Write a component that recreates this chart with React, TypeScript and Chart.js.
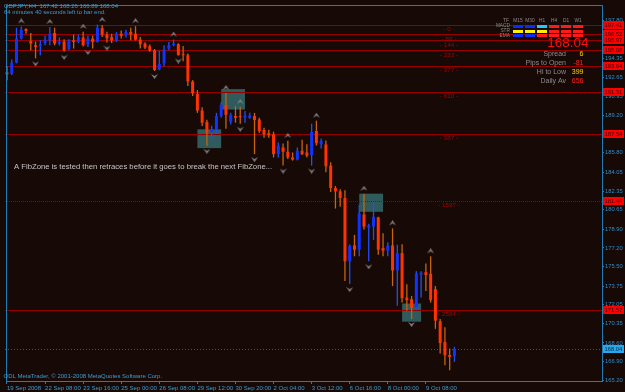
import React, { useEffect, useRef } from 'react';
import { Chart, registerables } from 'chart.js';

Chart.register(...registerables);

const symbolLine = 'GBPJPY,H4  167.42 168.26 166.89 168.04';
const timerLine = '64 minutes 40 seconds left to bar end.';
const copyrightLine = 'ODL MetaTrader, © 2001-2008 MetaQuotes Software Corp.';
const noteText = 'A FibZone is tested then retraces before it goes to break the next FibZone...';

const opens = [
  193.09, 192.94, 193.96, 196.14, 197.01, 195.93, 195.54, 195.45, 195.75, 195.98,
  196.65, 195.69, 195.87, 195.18, 195.98, 195.84, 196.23, 195.60, 196.14, 195.84,
  197.09, 196.50, 196.29, 195.91, 196.58, 196.43, 196.74, 196.58, 196.05, 195.69,
  195.45, 195.09, 193.36, 193.90, 195.24, 195.54, 195.63, 194.73, 194.64, 192.26,
  191.12, 189.63, 188.59, 187.68, 187.90, 189.13, 190.14, 188.59, 189.13, 189.09,
  189.00, 188.95, 189.13, 188.82, 187.87, 187.57, 187.48, 185.69, 186.29, 185.90,
  185.39, 185.19, 185.99, 185.84, 185.60, 187.78, 186.58, 186.56, 184.65, 182.62,
  182.32, 181.72, 175.99, 177.43, 177.04, 180.23, 179.04, 179.13, 179.96, 177.18,
  176.95, 177.43, 175.16, 176.73, 172.71, 172.56, 171.81, 174.80, 175.01, 174.86,
  173.46, 170.56, 168.68, 167.51, 167.42,
];
const highs = [
  193.63, 194.26, 197.12, 197.24, 197.08, 196.65, 195.87, 195.98, 196.43, 197.18,
  197.12, 196.23, 196.07, 196.09, 196.50, 196.52, 196.76, 196.43, 196.43, 197.41,
  197.38, 196.76, 196.58, 196.72, 196.88, 196.94, 197.12, 197.26, 196.29, 195.82,
  195.60, 195.20, 195.06, 195.54, 195.84, 196.05, 195.73, 195.47, 194.79, 192.38,
  191.48, 189.93, 188.80, 188.26, 189.42, 190.41, 191.21, 189.42, 190.02, 189.96,
  189.60, 189.42, 189.42, 188.97, 188.08, 187.90, 187.72, 186.74, 186.65, 186.89,
  185.84, 186.29, 186.98, 186.58, 188.44, 188.71, 187.09, 186.91, 184.95, 182.80,
  182.50, 182.41, 177.51, 178.38, 181.10, 182.10, 179.39, 181.36, 180.02, 178.53,
  177.72, 178.97, 177.49, 177.54, 173.91, 172.86, 175.10, 175.10, 175.79, 176.44,
  173.75, 170.77, 170.02, 168.09, 168.26,
];
const lows = [
  192.38, 192.85, 193.90, 196.05, 196.58, 195.09, 194.35, 194.64, 195.54, 195.54,
  195.54, 195.51, 194.95, 195.09, 195.24, 195.73, 195.42, 195.39, 195.24, 195.78,
  196.29, 195.78, 195.75, 195.82, 196.14, 196.23, 195.98, 195.96, 195.24, 195.21,
  194.95, 193.21, 193.27, 193.63, 195.09, 195.45, 194.61, 194.08, 191.84, 190.94,
  189.42, 188.23, 186.44, 187.00, 187.63, 188.97, 187.99, 188.37, 188.53, 188.44,
  188.53, 188.89, 185.69, 187.63, 187.18, 187.18, 185.39, 185.39, 184.65, 185.24,
  185.10, 185.12, 185.60, 185.39, 184.65, 186.47, 186.20, 184.05, 182.26, 180.76,
  180.92, 174.20, 173.93, 176.44, 176.44, 178.86, 175.99, 177.93, 176.59, 176.44,
  176.44, 173.75, 171.96, 172.26, 171.52, 170.77, 171.67, 172.71, 173.31, 172.26,
  169.88, 167.64, 166.59, 166.14, 166.89,
];
const closes = [
  192.91, 193.96, 196.14, 196.94, 196.83, 195.69, 195.39, 195.63, 196.05, 196.58,
  195.69, 195.87, 195.09, 195.98, 195.84, 196.25, 195.54, 196.14, 195.84, 197.12,
  196.50, 196.16, 195.98, 196.58, 196.38, 196.74, 196.52, 196.05, 195.63, 195.33,
  195.04, 193.30, 193.84, 195.15, 195.54, 195.69, 194.64, 194.64, 192.26, 191.19,
  189.63, 188.53, 187.63, 187.86, 189.13, 190.14, 189.24, 189.22, 188.97, 189.04,
  189.18, 189.18, 188.77, 187.78, 187.48, 187.39, 185.69, 186.44, 185.90, 185.39,
  185.19, 185.99, 185.69, 185.55, 187.69, 186.67, 186.89, 184.59, 182.62, 182.32,
  181.72, 175.99, 177.40, 177.04, 180.32, 179.13, 179.22, 180.02, 177.04, 176.95,
  177.43, 175.16, 176.73, 172.65, 172.47, 171.76, 174.89, 174.95, 174.74, 172.47,
  170.62, 168.59, 167.49, 167.34, 168.04,
];

const xTickIndex = [0, 8, 16, 24, 32, 40, 48, 56, 64, 72, 80, 88];
const xTickLabels = [
  '19 Sep 2008', '22 Sep 08:00', '23 Sep 16:00', '25 Sep 00:00', '26 Sep 08:00', '29 Sep 12:00',
  '30 Sep 20:00', '2 Oct 04:00', '3 Oct 12:00', '6 Oct 16:00', '8 Oct 00:00', '9 Oct 08:00',
];
const yTickValues = [
  165.20, 166.90, 168.60, 170.35, 172.05, 173.75, 175.50, 177.20, 178.90, 180.65,
  182.35, 184.05, 185.80, 187.50, 189.20, 190.95, 192.65, 194.35, 196.10, 197.80,
];

const fibLevels = [0, 89, 144, 233, 377, 610, 987, 1597, 2584];
const fibPrices = [197.41, 196.52, 195.97, 195.08, 193.64, 191.31, 187.54, 181.44, 171.57];
const fibLabels = ['197.41', '196.52', '195.97', '195.08', '193.64', '191.31', '187.54', '181.44', '171.57'];

const upFractals = [3, 9, 16, 20, 27, 35, 46, 49, 59, 65, 75, 81, 89];
const downFractals = [6, 12, 17, 21, 31, 36, 42, 49, 52, 58, 64, 72, 76, 85];

const zoneStart = [40, 45, 74, 83];
const zoneEnd = [45, 50, 79, 87];
const zoneTop = [187.93, 191.57, 182.11, 172.17];
const zoneBottom = [186.23, 189.72, 180.47, 170.53];

const lastPrice = 168.04;
const lastPriceLabel = '168.04';

const panelHeader = ['TF', 'M15', 'M30', 'H1', 'H4', 'D1', 'W1'];
const panelRows = ['MACD', 'STR', 'EMA'];
const macdCells = ['#0a2cff', '#0a2cff', '#22c8ff', '#ff1a1a', '#ff1a1a', '#ff1a1a'];
const strCells = ['#ffee00', '#ffee00', '#ffee00', '#ff1a1a', '#ff1a1a', '#ff1a1a'];
const emaCells = ['#0a2cff', '#0a2cff', '#ff1a1a', '#ff1a1a', '#ff1a1a', '#ff1a1a'];
const bigPrice = '168.04';
const statLabels = ['Spread', 'Pips to Open', 'Hi to Low', 'Daily Av'];
const statValues = ['6', '-81', '399', '656'];
const statColors = ['#ffd200', '#ff2020', '#ffd200', '#ff2020'];

const FONT = '"Liberation Sans", Arial, sans-serif';
const AXIS_BLUE = '#1f7db8';
const TEXT_BLUE = '#3b9bd4';

function arrowImage(up: boolean): HTMLCanvasElement {
  const gap = 3, ah = 5, w = 7;
  const h = 2 * (gap + ah);
  const c = document.createElement('canvas');
  c.width = w; c.height = h;
  const g = c.getContext('2d')!;
  g.fillStyle = '#7e7e7e';
  g.beginPath();
  if (up) {
    g.moveTo(0, ah); g.lineTo(w / 2, 0); g.lineTo(w, ah); g.lineTo(w / 2, ah - 2);
  } else {
    g.moveTo(0, h - ah); g.lineTo(w / 2, h); g.lineTo(w, h - ah); g.lineTo(w / 2, h - ah + 2);
  }
  g.closePath(); g.fill();
  return c;
}

const overlay = {
  id: 'mt4overlay',
  beforeDatasetsDraw(chart: any) {
    const { ctx, chartArea: ca } = chart;
    const x = chart.scales.x, y = chart.scales.y;
    ctx.save();
    ctx.beginPath();
    ctx.rect(ca.left, ca.top, ca.right - ca.left, ca.bottom - ca.top);
    ctx.clip();
    ctx.fillStyle = '#2f5b5d';
    zoneStart.forEach((s, k) => {
      const x0 = x.getPixelForValue(s), x1 = x.getPixelForValue(zoneEnd[k]);
      const y0 = y.getPixelForValue(zoneTop[k]), y1 = y.getPixelForValue(zoneBottom[k]);
      ctx.fillRect(x0, y0, x1 - x0, y1 - y0);
    });
    ctx.lineWidth = 1;
    fibPrices.forEach((p, k) => {
      const py = Math.round(y.getPixelForValue(p)) + 0.5;
      ctx.strokeStyle = '#980000';
      ctx.setLineDash(fibLevels[k] === 1597 ? [1, 1] : []);
      ctx.beginPath(); ctx.moveTo(ca.left, py); ctx.lineTo(ca.right, py); ctx.stroke();
    });
    ctx.setLineDash([1, 2]);
    ctx.strokeStyle = '#2a5a86';
    const lp = Math.round(y.getPixelForValue(lastPrice)) + 0.5;
    ctx.beginPath(); ctx.moveTo(ca.left, lp); ctx.lineTo(ca.right, lp); ctx.stroke();
    ctx.setLineDash([]);
    ctx.font = `6.2px ${FONT}`;
    ctx.fillStyle = '#a80000';
    ctx.textAlign = 'center';
    ctx.textBaseline = 'middle';
    fibPrices.forEach((p, k) => {
      ctx.fillText(`- ${fibLevels[k]} -`, 449, y.getPixelForValue(p) + 4.5);
    });
    ctx.restore();
  },
  afterDraw(chart: any) {
    const { ctx, chartArea: ca } = chart;
    const y = chart.scales.y;
    ctx.save();
    ctx.strokeStyle = AXIS_BLUE;
    ctx.lineWidth = 1;
    ctx.strokeRect(ca.left + 1.5, ca.top + 0.5, ca.right - ca.left - 1, ca.bottom - ca.top);
    ctx.font = `5.8px ${FONT}`;
    ctx.textAlign = 'left';
    ctx.textBaseline = 'middle';
    fibPrices.forEach((p, k) => {
      const py = Math.round(y.getPixelForValue(p));
      ctx.fillStyle = '#ff0000';
      ctx.fillRect(603, py - 4, 21, 8);
      ctx.fillStyle = '#3a0000';
      ctx.fillText(fibLabels[k], 604.5, py + 0.5);
    });
    const lpy = Math.round(y.getPixelForValue(lastPrice));
    ctx.fillStyle = '#2aa6ec';
    ctx.fillRect(603, lpy - 4, 21, 8);
    ctx.fillStyle = '#002a44';
    ctx.fillText(lastPriceLabel, 604.5, lpy + 0.5);
    ctx.font = `6px ${FONT}`;
    ctx.fillStyle = TEXT_BLUE;
    ctx.fillText(symbolLine, 4, 6);
    ctx.fillText(timerLine, 4, 12.8);
    ctx.fillText(copyrightLine, 3.5, 376);
    ctx.font = `7.7px ${FONT}`;
    ctx.fillStyle = '#c4c4c4';
    ctx.fillText(noteText, 14, 166.7);
    ctx.font = `4.8px ${FONT}`;
    ctx.fillStyle = '#8a8a8a';
    ctx.textAlign = 'center';
    panelHeader.forEach((t, k) => ctx.fillText(t, 506 + k * 12, 20.5));
    ctx.textAlign = 'right';
    const rowY = [25.7, 31, 35.2];
    panelRows.forEach((t, r) => ctx.fillText(t, 510, rowY[r]));
    [macdCells, strCells, emaCells].forEach((row, r) => {
      row.forEach((c, k) => {
        ctx.fillStyle = c;
        ctx.fillRect(513 + k * 12, Math.round(rowY[r]) - 1, 10, 3);
      });
    });
    ctx.font = `13.5px ${FONT}`;
    ctx.fillStyle = '#ff0d0d';
    ctx.textAlign = 'right';
    ctx.fillText(bigPrice, 588.5, 43.5);
    const statY = [54.5, 63.3, 72, 80.8];
    statLabels.forEach((t, k) => {
      ctx.font = `7px ${FONT}`;
      ctx.fillStyle = '#8c8c8c';
      ctx.fillText(t, 566, statY[k]);
      ctx.fillStyle = statColors[k];
      ctx.fillText(statValues[k], 583.5, statY[k]);
    });
    ctx.restore();
  },
};

export default function App() {
  const ref = useRef<HTMLCanvasElement | null>(null);
  useEffect(() => {
    if (!ref.current) return;
    const bull = opens.map((o, i) => closes[i] >= o);
    const wickData = opens.map((_, i) => ({ x: i, y: [lows[i], highs[i]] }));
    const bodyData = opens.map((o, i) => ({ x: i, y: [o, closes[i]] }));
    const upData = upFractals.map((i) => ({ x: i, y: highs[i] }));
    const downData = downFractals.map((i) => ({ x: i, y: lows[i] }));
    const upImg = arrowImage(true);
    const downImg = arrowImage(false);
    const chart = new Chart(ref.current, {
      type: 'bar',
      data: {
        datasets: [
          {
            type: 'bar', label: 'wick', data: wickData as any,
            backgroundColor: bull.map((b) => (b ? '#1e50ff' : '#c8640c')),
            barThickness: 1.3, grouped: false, order: 3, inflateAmount: 0, borderWidth: 0,
          } as any,
          {
            type: 'bar', label: 'body', data: bodyData as any,
            backgroundColor: bull.map((b) => (b ? '#1034ff' : '#ff3300')),
            barThickness: 3, grouped: false, order: 2, minBarLength: 1, inflateAmount: 0, borderWidth: 0,
          } as any,
          {
            type: 'scatter', label: 'up', data: upData as any, pointStyle: upImg as any, order: 1,
          } as any,
          {
            type: 'scatter', label: 'down', data: downData as any, pointStyle: downImg as any, order: 1,
          } as any,
        ],
      },
      options: {
        responsive: false,
        animation: false,
        events: [],
        layout: { padding: { left: 0, right: 0, top: 1, bottom: 0 } },
        plugins: { legend: { display: false }, tooltip: { enabled: false } },
        scales: {
          x: {
            type: 'linear', position: 'bottom', min: -0.4167, max: 125.0, offset: false,
            grid: { display: true, drawOnChartArea: false, drawTicks: true, tickLength: 3, color: AXIS_BLUE, offset: false },
            border: { display: false },
            ticks: {
              autoSkip: false, maxRotation: 0, minRotation: 0, align: 'start', padding: 1,
              color: TEXT_BLUE, font: { size: 6, family: FONT },
              callback: (v: any) => {
                const k = xTickIndex.indexOf(Number(v));
                return k >= 0 ? xTickLabels[k] : '';
              },
            },
            afterBuildTicks: (s: any) => { s.ticks = xTickIndex.map((v) => ({ value: v })); },
            afterFit: (s: any) => { s.height = 11; s.paddingLeft = 0; s.paddingRight = 0; },
          } as any,
          y: {
            type: 'linear', position: 'right', min: 165.16, max: 199.18, beginAtZero: false,
            grid: { display: true, drawOnChartArea: false, drawTicks: true, tickLength: 2, color: AXIS_BLUE },
            border: { display: false },
            ticks: {
              autoSkip: false, padding: 1, color: '#2f8ccc', font: { size: 5.8, family: FONT },
              callback: (v: any) => Number(v).toFixed(2),
            },
            afterBuildTicks: (s: any) => { s.ticks = yTickValues.map((v) => ({ value: v })); },
            afterFit: (s: any) => { s.width = 23; s.paddingTop = 0; s.paddingBottom = 0; },
          } as any,
        },
      },
      plugins: [overlay],
    });
    return () => chart.destroy();
  }, []);
  return (
    <div style={{ position: 'fixed', left: 0, top: 0, width: 625, height: 392, background: '#170a06' }}>
      <canvas ref={ref} width={625} height={392} style={{ display: 'block' }} />
    </div>
  );
}
